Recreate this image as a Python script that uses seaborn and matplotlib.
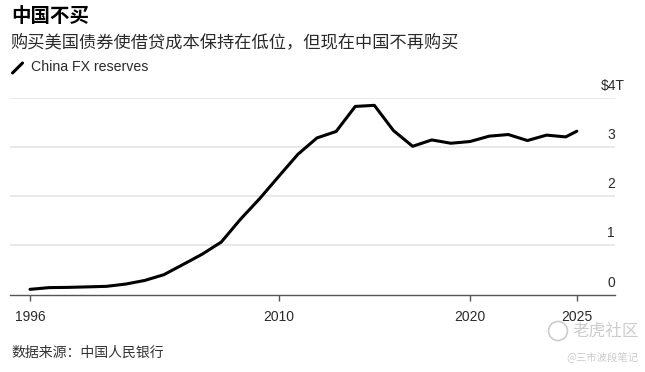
import pandas as pd
import matplotlib
matplotlib.use("Agg")
import matplotlib.pyplot as plt
import matplotlib.transforms as mtrans
from matplotlib.lines import Line2D
from matplotlib.patches import Ellipse
import seaborn as sns

# end-of-period dates, last one is the latest monthly reading
period_end = pd.to_datetime([f"{y}-12-31" for y in range(1996, 2025)] + ["2025-07-31"])
# China FX reserves, trillion USD
reserves = [0.105, 0.140, 0.145, 0.155, 0.166, 0.212, 0.286, 0.403, 0.610, 0.819,
            1.066, 1.528, 1.946, 2.399, 2.847, 3.181, 3.312, 3.821, 3.843, 3.330,
            3.011, 3.140, 3.073, 3.108, 3.217, 3.250, 3.128, 3.238, 3.202, 3.317]
x_tick_labels = ["1996", "2010", "2020", "2025"]
y_ticks = [0, 1, 2, 3, 4]
y_tick_labels = ["0", "1", "2", "3", "$4T"]

df = pd.DataFrame({"date": period_end, "reserves": reserves})

sns.set_style("white")
plt.rcParams["font.family"] = ["Liberation Sans", "Noto Sans CJK SC", "DejaVu Sans"]
cjk = ["Noto Sans CJK SC", "DejaVu Sans"]

fig = plt.figure(figsize=(6.45, 3.72), dpi=100)
ax = fig.add_axes([10 / 645, 0.2083, 605 / 645, 0.5293])

sns.lineplot(data=df, x="date", y="reserves", color="black", linewidth=2.2, ax=ax)

ax.set_xlim(pd.Timestamp("1995-12-15"), pd.Timestamp("2027-07-30"))
ax.set_ylim(0, 4)
ax.set_xlabel("")
ax.set_ylabel("")

# gridlines with labels sitting on top at the right end
for v, lab in zip(y_ticks, y_tick_labels):
    if v > 0:
        ax.axhline(v, color="#e3e3e3", linewidth=1.1, zorder=0)
    trans = mtrans.offset_copy(ax.get_yaxis_transform(), fig=fig, x=0, y=8, units="dots")
    if lab.startswith("$"):
        ax.text(0.9769, v, lab, transform=trans, ha="left", va="baseline",
                fontsize=10, color="#2a2a2a", clip_on=False)
    else:
        ax.text(1.0, v, lab, transform=trans, ha="right", va="baseline",
                fontsize=10, color="#2a2a2a", clip_on=False)
ax.set_yticks([])

tick_dates = [period_end[0], pd.Timestamp("2010-01-01"), pd.Timestamp("2020-01-01"), period_end[-1]]
ax.set_xticks(tick_dates)
ax.set_xticklabels(x_tick_labels)
ax.tick_params(axis="x", length=4, width=1, color="#555555", pad=7.5,
               labelsize=10, labelcolor="#2a2a2a", bottom=True)

for side in ["top", "right", "left"]:
    ax.spines[side].set_visible(False)
ax.spines["bottom"].set_color("#555555")
ax.spines["bottom"].set_linewidth(1)

# header
fig.text(0.017, 0.955, "中国不买", family=cjk, fontsize=14, fontweight="bold",
         color="black", va="center")
fig.text(0.016, 0.886, "购买美国债券使借贷成本保持在低位，但现在中国不再购买", family=cjk,
         fontsize=12.4, color="#2a2a2a", va="center")
fig.add_artist(Line2D([12.5 / 645, 22.5 / 645], [1 - 73 / 372, 1 - 63 / 372],
                      color="black", linewidth=2.2, transform=fig.transFigure))
fig.text(0.048, 0.8207, "China FX reserves", fontsize=10.2, color="#2a2a2a", va="center")

# footer
fig.text(0.017, 0.051, "数据来源：中国人民银行", family=cjk, fontsize=10,
         color="#333333", va="center")

# watermark
fig.add_artist(Ellipse((558 / 645, 1 - 331 / 372), 19 / 645, 19 / 372, fill=False,
                       edgecolor="#cccccc", linewidth=1.2, transform=fig.transFigure))
fig.text(0.99, 1 - 331 / 372, "老虎社区", family=cjk, fontsize=12, color="#cccccc",
         ha="right", va="center")
fig.text(0.99, 1 - 357 / 372, "@三市波段笔记", family=cjk, fontsize=7.5, color="#cccccc",
         ha="right", va="center")

fig.savefig("out.png", dpi=100)
